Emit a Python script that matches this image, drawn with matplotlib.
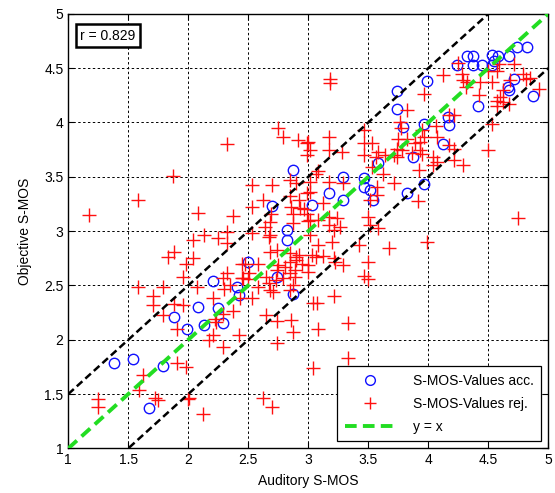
import matplotlib
matplotlib.use("Agg")
import matplotlib.pyplot as plt
from matplotlib.lines import Line2D

plt.rcParams['font.family'] = ['Liberation Sans', 'DejaVu Sans']

# accepted S-MOS values (auditory, objective)
acc_x = [1.38, 1.54, 1.79, 1.67, 1.88, 1.99, 2.08, 2.13, 2.21, 2.245, 2.29, 2.41, 2.42, 2.495,
         2.74, 2.82, 2.82, 2.87, 2.875, 2.70, 3.03, 3.17, 3.29, 3.29, 3.46, 3.46, 3.51, 3.54,
         3.825, 3.74, 3.74, 3.79, 3.96, 3.875, 3.99, 3.58, 4.125, 4.17, 4.16, 3.96, 4.24, 4.32,
         4.375, 4.37, 4.45, 4.53, 4.55, 4.58, 4.53, 4.67, 4.74, 4.82, 4.71, 4.66, 4.67, 4.875, 4.41]
acc_y = [1.79, 1.82, 1.76, 1.37, 2.21, 2.10, 2.30, 2.14, 2.54, 2.29, 2.15, 2.49, 2.41, 2.72,
         2.58, 3.01, 2.92, 2.42, 3.56, 3.23, 3.24, 3.35, 3.29, 3.50, 3.49, 3.41, 3.38, 3.29,
         3.35, 4.29, 4.12, 3.96, 3.99, 3.68, 4.38, 3.63, 3.80, 3.975, 4.05, 3.43, 4.53, 4.61,
         4.61, 4.53, 4.53, 4.62, 4.57, 4.61, 4.53, 4.61, 4.69, 4.69, 4.40, 4.33, 4.30, 4.24, 4.15]

# rejected S-MOS values (auditory, objective)
rej_x = [1.17, 1.58, 1.875, 1.83, 1.88, 1.98, 1.58, 1.79, 1.71, 1.71, 1.79, 1.88, 1.96, 1.955,
         1.91, 1.91, 1.98, 1.62, 1.59, 1.725, 1.75, 1.25, 1.25, 2.0, 2.04,
         2.08, 2.375, 2.325, 2.04, 2.13, 2.25, 2.32, 2.32, 2.07, 2.21, 2.29, 2.30, 2.29, 2.235,
         2.21, 2.17, 2.29, 2.37, 2.42, 2.445, 2.47, 2.35, 2.32, 2.22, 2.125, 2.01, 2.445, 2.46, 2.43,
         2.53, 2.53, 2.62, 2.70, 2.69, 2.68, 2.53, 2.67, 2.745, 2.79, 2.91, 2.99, 2.99, 2.85, 2.90,
         2.85, 2.92, 2.99, 2.86, 2.93, 2.99, 2.875, 3.0, 2.87, 2.64, 2.58, 2.50, 2.51, 2.58, 2.53,
         2.68, 2.74, 2.85, 2.90, 2.85, 2.74, 2.81, 2.89, 2.65, 2.79, 2.89, 2.71, 2.85, 2.65, 2.74,
         2.86, 2.875, 2.74, 2.675, 2.68, 2.735, 2.75, 2.92, 2.90, 2.875, 2.85, 2.625, 2.70, 2.68, 2.95,
         3.18, 3.18, 3.0, 3.01, 3.175, 3.17, 3.28, 3.46, 3.46, 3.46, 3.06, 3.08, 3.01, 3.01, 3.175,
         3.29, 3.125, 2.965, 3.01, 3.08, 3.17, 3.17, 3.24, 3.26, 3.21, 3.01, 3.08, 3.195, 3.42, 3.50,
         3.51, 3.03, 3.06, 3.125, 3.21, 3.22, 3.0, 3.0, 3.29, 3.50, 3.46, 3.50, 3.04, 3.075, 3.21,
         3.33, 3.08, 3.33, 3.04, 3.51,
         3.53, 3.58, 3.56, 3.64, 3.53, 3.625, 3.71, 3.57, 3.57, 3.71, 3.58, 3.67, 3.99, 3.96, 3.825,
         3.76, 3.77, 3.745, 3.82, 3.89, 3.735, 3.78, 3.735, 3.86, 3.93, 3.93, 3.92, 3.91, 3.95, 3.96,
         3.95,
         4.125, 4.06, 4.17, 4.21, 4.075, 4.17, 4.21, 4.04, 4.07, 4.04, 4.21, 4.285, 4.50, 4.53, 4.75,
         4.25, 4.28, 4.285, 4.32, 4.31, 4.43, 4.42, 4.50, 4.57, 4.53, 4.59, 4.71, 4.62, 4.60, 4.575,
         4.625, 4.67, 4.57, 4.68, 4.79, 4.81, 4.92, 4.85]
rej_y = [3.15, 3.29, 3.51, 2.76, 2.81, 2.70, 2.49, 2.49, 2.40, 2.32, 2.23, 2.33, 2.32, 2.58,
         2.10, 1.79, 1.75, 1.68, 1.54, 1.46, 1.445, 1.45, 1.38, 1.455, 2.75,
         3.17, 3.14, 3.80, 2.92, 2.96, 2.94, 2.99, 2.89, 2.49, 2.38, 2.57, 2.47, 2.24, 2.16,
         2.04, 1.995, 1.935, 2.26, 2.04, 2.57, 2.70, 2.50, 2.61, 2.19, 1.32, 1.46, 2.70, 2.565, 2.38,
         3.42, 3.22, 3.285, 3.42, 3.16, 3.08, 2.98, 2.95, 3.95, 3.87, 3.84, 3.81, 3.70, 3.47, 3.44,
         3.32, 3.285, 3.35, 3.22, 3.21, 3.16, 3.07, 3.09, 3.16, 3.04, 2.70, 2.56, 2.61, 2.49, 2.38,
         2.81, 2.825, 2.795, 2.76, 2.72, 2.64, 2.67, 2.64, 2.58, 2.565, 2.58, 2.44, 2.46, 2.23, 2.17,
         2.18, 2.07, 1.97, 2.52, 2.46, 2.55, 2.69, 2.78, 2.73, 2.50, 2.61, 1.46, 1.38, 2.96, 2.70,
         4.40, 4.36, 3.82, 3.745, 3.87, 3.745, 3.73, 3.93, 3.81, 3.70, 3.53, 3.55, 3.45, 3.36, 3.45,
         3.44, 3.255, 3.20, 3.10, 3.10, 3.13, 3.055, 3.12, 3.04, 3.01, 2.96, 2.87, 2.90, 2.87, 3.13,
         3.055, 2.78, 2.76, 2.77, 2.75, 2.72, 2.69, 2.625, 2.69, 2.72, 2.59, 2.555, 2.335, 2.34, 2.40,
         2.15, 2.095, 1.83, 1.74, 3.285,
         3.81, 3.73, 3.68, 3.70, 3.59, 3.53, 3.70, 3.41, 3.33, 3.44, 3.025, 2.84, 2.90, 4.26, 4.11,
         4.005, 3.945, 3.85, 3.85, 3.81, 3.76, 3.745, 3.68, 3.715, 3.82, 3.745, 3.56, 3.28, 3.93, 3.87,
         3.71,
         4.44, 3.97, 4.07, 4.07, 3.87, 3.79, 3.76, 3.68, 3.64, 3.61, 3.65, 3.61, 3.745, 3.99, 3.12,
         4.55, 4.45, 4.39, 4.37, 4.33, 4.37, 4.25, 4.47, 4.47, 4.37, 4.54, 4.54, 4.30, 4.235, 4.20,
         4.19, 4.17, 4.15, 4.39, 4.45, 4.40, 4.31, 4.405]

ticks = [1, 1.5, 2, 2.5, 3, 3.5, 4, 4.5, 5]
tick_labels = ['1', '1.5', '2', '2.5', '3', '3.5', '4', '4.5', '5']
line_x = [1, 5]
r_text = 'r = 0.829'

fig = plt.figure(figsize=(5.55, 4.93), dpi=100)
ax = fig.add_axes([0.123, 0.0905, 0.865, 0.8815])

ax.plot(acc_x, acc_y, linestyle='none', marker='o', markersize=7.5, markerfacecolor='none',
        markeredgecolor='#1010ff', markeredgewidth=1.0, label='S-MOS-Values acc.', zorder=3)
ax.plot(rej_x, rej_y, linestyle='none', marker='+', markersize=9.5, color='#ff1010',
        markeredgewidth=1.0, label='S-MOS-Values rej.', zorder=3)
ax.plot(line_x, [v for v in line_x], color='#22dd22', linestyle=(0, (3, 1.6)), linewidth=2.8,
        label='y = x', zorder=4)
ax.plot(line_x, [v + 0.5 for v in line_x], color='black', linestyle=(0, (3, 1.6)), linewidth=1.8, zorder=4)
ax.plot(line_x, [v - 0.5 for v in line_x], color='black', linestyle=(0, (3, 1.6)), linewidth=1.8, zorder=4)

ax.set_xlim(1, 5)
ax.set_ylim(1, 5)
ax.set_xticks(ticks)
ax.set_xticklabels(tick_labels)
ax.set_yticks(ticks)
ax.set_yticklabels(tick_labels)
ax.grid(True, color='black', linestyle=(0, (2.5, 2.5)), linewidth=0.7)
ax.set_axisbelow(True)
ax.tick_params(direction='in', length=4, labelsize=10, top=True, right=True,
               labeltop=False, labelright=False)
for s in ax.spines.values():
    s.set_linewidth(1.0)
ax.set_xlabel('Auditory S-MOS', fontsize=10, labelpad=5)
ax.set_ylabel('Objective S-MOS', fontsize=10, labelpad=9)

ax.text(1.1, 4.80, r_text, fontsize=10, va='center', ha='left',
        bbox=dict(boxstyle='square,pad=0.3', facecolor='white', edgecolor='black', linewidth=1.8))

handles = [Line2D([], [], linestyle='none', marker='o', markersize=7, markerfacecolor='none',
                  markeredgecolor='#1010ff'),
           Line2D([], [], linestyle='none', marker='+', markersize=9, color='#ff1010'),
           Line2D([], [], color='#22dd22', linestyle=(0, (3, 1.6)), linewidth=2.8)]
leg = ax.legend(handles, ['S-MOS-Values acc.', 'S-MOS-Values rej.', 'y = x'],
                loc='lower right', fontsize=10, fancybox=False, framealpha=1,
                edgecolor='black', borderaxespad=0.5, handlelength=3.6, labelspacing=0.65,
                borderpad=0.55, handletextpad=1.3)
leg.get_frame().set_linewidth(0.9)

fig.savefig('out.png', dpi=100)
